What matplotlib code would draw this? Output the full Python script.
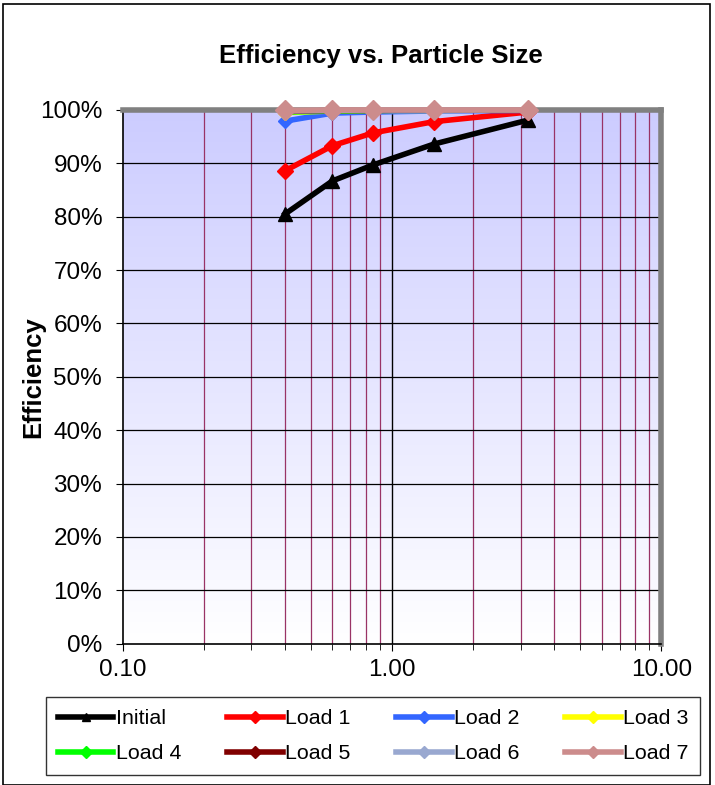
import numpy as np
import matplotlib
matplotlib.use("Agg")
import matplotlib.pyplot as plt
from matplotlib.patches import Rectangle
from matplotlib.ticker import FixedLocator, PercentFormatter, NullFormatter

plt.rcParams['font.family'] = ['Liberation Sans', 'DejaVu Sans']

# particle sizes (microns)
sizes = [0.40, 0.60, 0.85, 1.43, 3.20]

initial = [80.5, 86.7, 89.7, 93.6, 98.1]
load1 = [88.6, 93.3, 95.7, 97.8, 99.6]
load2 = [97.9, 99.4, 99.6, 99.8, 99.9]
load3 = [99.5, 99.8, 99.9, 99.9, 100.0]
load4 = [99.6, 99.8, 99.9, 100.0, 100.0]
load5 = [99.7, 99.9, 99.9, 100.0, 100.0]
load6 = [99.8, 99.9, 100.0, 100.0, 100.0]
load7 = [99.9, 100.0, 100.0, 100.0, 100.0]

names = ["Initial", "Load 1", "Load 2", "Load 3", "Load 4", "Load 5", "Load 6", "Load 7"]
series = [initial, load1, load2, load3, load4, load5, load6, load7]
colors = ["#000000", "#FF0000", "#3366FF", "#FFFF00", "#00FF00", "#800000", "#99A8D0", "#CC8C8C"]
markers = ["^", "D", "D", "D", "D", "D", "D", "D"]
msizes = [10, 8, 7, 7, 7, 7, 7, 10]

fig = plt.figure(figsize=(7.15, 7.85), dpi=100)
fig.patches.append(Rectangle((0.004, 0.0), 0.989, 0.995, transform=fig.transFigure,
                             fill=False, edgecolor="black", linewidth=1.2))

ax = fig.add_axes([0.172, 0.180, 0.753, 0.680])
ax.set_xscale("log")
ax.set_xlim(0.1, 10)
ax.set_ylim(0, 100)

# gradient background (lavender at top to white at bottom)
grad = np.linspace(0, 1, 256).reshape(-1, 1)
top = np.array([204, 204, 255]) / 255.0
bot = np.array([255, 255, 255]) / 255.0
img = bot + (top - bot) * grad[:, :, None]
ax.imshow(img, extent=[0, 1, 0, 1], transform=ax.transAxes, aspect="auto",
          origin="lower", zorder=0)

# gridlines
minor_x = [v * d for d in (0.1, 1) for v in range(2, 10)]
for xv in minor_x:
    ax.axvline(xv, color="#993366", linewidth=0.9, zorder=1)
ax.axvline(1.0, color="black", linewidth=1.0, zorder=1)
for yv in range(10, 100, 10):
    ax.axhline(yv, color="black", linewidth=0.9, zorder=1)

lines = []
for name, vals, c, m, ms in zip(names, series, colors, markers, msizes):
    ln, = ax.plot(sizes, vals, color=c, linewidth=4, marker=m, markersize=ms,
                  markeredgecolor=c, label=name, zorder=3, clip_on=False)
    lines.append(ln)

ax.xaxis.set_major_locator(FixedLocator([0.1, 1, 10]))
ax.xaxis.set_minor_locator(FixedLocator(minor_x))
ax.set_xticklabels(["0.10", "1.00", "10.00"])
ax.xaxis.set_minor_formatter(NullFormatter())
ax.tick_params(axis="x", which="minor", length=4, direction="out", color="black")
ax.set_yticks(range(0, 101, 10))
ax.yaxis.set_major_formatter(PercentFormatter(decimals=0))
ax.tick_params(axis="both", which="major", labelsize=17.5, length=5, direction="out", color="black")
ax.tick_params(axis="y", pad=10)
ax.tick_params(axis="x", pad=6)

for s in ["top", "right"]:
    ax.spines[s].set_color("#808080")
    ax.spines[s].set_linewidth(4)
ax.spines["left"].set_color("black")
ax.spines["bottom"].set_color("black")
ax.spines["left"].set_linewidth(1.2)
ax.spines["bottom"].set_linewidth(1.2)

ax.set_ylabel("Efficiency", fontsize=18.5, fontweight="bold", labelpad=-4)
fig.text(0.533, 0.929, "Efficiency vs. Particle Size", ha="center", va="center",
         fontsize=18.5, fontweight="bold")

# row-major order for a 4-column legend
order = [0, 4, 1, 5, 2, 6, 3, 7]
leg = fig.legend([lines[i] for i in order], [names[i] for i in order],
                 loc="center", bbox_to_anchor=(0.522, 0.0624), ncol=4, fontsize=15.4,
                 frameon=True, fancybox=False, edgecolor="black", handlelength=2.6,
                 handletextpad=0.1, columnspacing=2.15, borderpad=0.55, labelspacing=0.75)
leg.get_frame().set_linewidth(1.0)
for h in leg.get_lines():
    h.set_markersize(6)

fig.savefig("out.png", dpi=100)
